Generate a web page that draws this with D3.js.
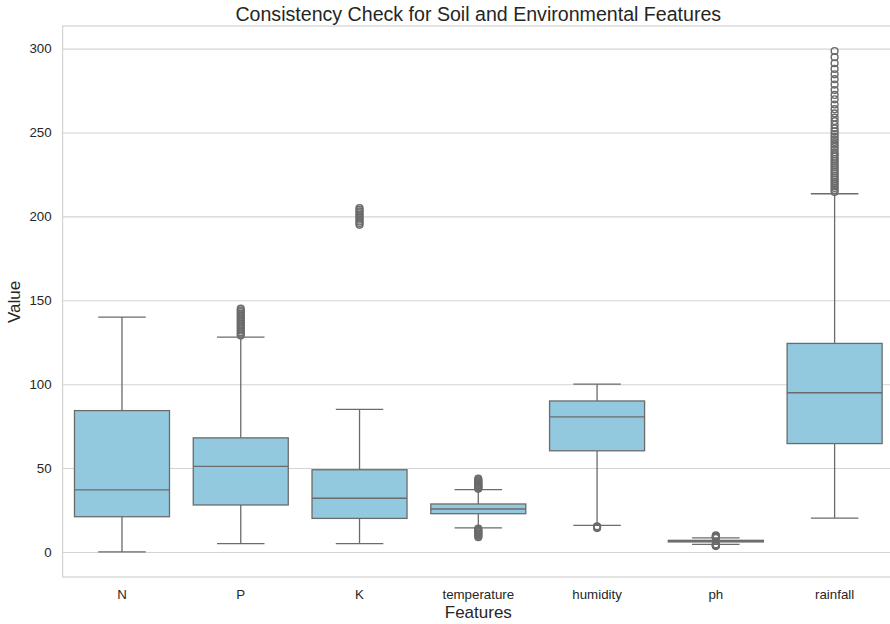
<!DOCTYPE html>
<html lang="en">
<head>
  <meta charset="UTF-8">
  <title>Consistency Check for Soil and Environmental Features</title>
  <script src="https://d3js.org/d3.v7.min.js"></script>
  <style>
    body { margin: 0; background: #fff; }
    svg { display: block; font-family: Arial, "Liberation Sans", sans-serif; }
    .tick text { fill: #262626; font-size: 13.3px; }
  </style>
</head>
<body>
  <div id="chart"></div>
  <script>
    // summary stats
    const features = ["N", "P", "K", "temperature", "humidity", "ph", "rainfall"];
    const whiskerLow  = [0,     5,  5,  14.3,  15.9,  4.55, 20.2];
    const q1          = [21,    28, 20, 22.8,  60.3,  5.97, 64.6];
    const median      = [37,    51, 32, 25.6,  80.5,  6.43, 94.9];
    const q3          = [84.25, 68, 49, 28.6,  90.0,  6.92, 124.3];
    const whiskerHigh = [140,  128, 85, 37.2,  99.98, 8.34, 213.5];
    const outliers = [
      [],
      [129, 130, 131, 132, 133, 134, 135, 136, 137, 138, 139, 140, 141, 142, 143, 144, 145],
      [195, 196, 197, 198, 199, 200, 201, 202, 203, 204, 205],
      [8.8, 9.5, 10.0, 10.6, 11.1, 11.7, 12.2, 12.8, 13.3, 13.9, 37.6, 38.1, 38.6, 39.1, 39.6, 40.1, 40.6, 41.1, 41.6, 42.2, 42.9, 43.7],
      [14.26, 14.6, 15.0, 15.3],
      [3.5, 3.8, 4.0, 4.2, 4.4, 4.5, 8.4, 8.6, 8.9, 9.2, 9.5, 9.94],
      [214.5, 215.7, 216.9, 218.1, 219.4, 220.6, 221.9, 223.1, 224.3, 225.6, 226.8, 228.0, 229.3, 230.5, 231.7, 233.0,
       234.2, 235.6, 236.9, 238.2, 239.8, 241.4, 242.9, 244.3, 245.9, 247.4, 249.0, 250.7, 252.5, 254.6, 256.8, 258.9,
       261.4, 263.9, 266.7, 269.8, 272.4, 275.3, 278.6, 281.8, 284.7, 287.9, 291.3, 294.9, 298.6]
    ];
    const yTicks = [0, 50, 100, 150, 200, 250, 300];

    const W = 890, H = 624;
    const m = { left: 62.6, right: 894, top: 26, bottom: 577 };
    const boxFill = "#93c9de", lineCol = "#6b6b6b", gridCol = "#d4d4d4";

    const svg = d3.select("#chart").append("svg")
      .attr("width", W).attr("height", H);

    const x = d3.scaleBand()
      .domain(features)
      .range([m.left, m.right])
      .paddingInner(0.2)
      .paddingOuter(0.1);

    const y = d3.scaleLinear()
      .domain([-14.93, 313.5])
      .range([m.bottom, m.top]);

    // grid + y labels
    const yAxis = svg.append("g")
      .attr("transform", `translate(${m.left},0)`)
      .call(d3.axisLeft(y).tickValues(yTicks).tickSize(-(m.right - m.left)).tickPadding(11));
    yAxis.select(".domain").remove();
    yAxis.selectAll(".tick line").attr("stroke", gridCol).attr("stroke-width", 1.1);

    // x labels
    const xAxis = svg.append("g")
      .attr("transform", `translate(0,${m.bottom})`)
      .call(d3.axisBottom(x).tickSize(0).tickPadding(12.5));
    xAxis.select(".domain").remove();

    // spines
    svg.append("rect")
      .attr("x", m.left).attr("y", m.top)
      .attr("width", m.right - m.left).attr("height", m.bottom - m.top)
      .attr("fill", "none").attr("stroke", gridCol).attr("stroke-width", 1.25);

    const bw = x.bandwidth();
    const g = svg.append("g");

    features.forEach((f, i) => {
      const cx = x(f) + bw / 2;
      const grp = g.append("g");
      // whiskers
      grp.append("line").attr("x1", cx).attr("x2", cx)
        .attr("y1", y(q1[i])).attr("y2", y(whiskerLow[i]));
      grp.append("line").attr("x1", cx).attr("x2", cx)
        .attr("y1", y(q3[i])).attr("y2", y(whiskerHigh[i]));
      // caps
      grp.append("line").attr("x1", cx - bw / 4).attr("x2", cx + bw / 4)
        .attr("y1", y(whiskerLow[i])).attr("y2", y(whiskerLow[i]));
      grp.append("line").attr("x1", cx - bw / 4).attr("x2", cx + bw / 4)
        .attr("y1", y(whiskerHigh[i])).attr("y2", y(whiskerHigh[i]));
      // box
      grp.append("rect")
        .attr("x", x(f)).attr("width", bw)
        .attr("y", y(q3[i])).attr("height", y(q1[i]) - y(q3[i]))
        .attr("fill", boxFill);
      grp.append("line").attr("x1", x(f)).attr("x2", x(f) + bw)
        .attr("y1", y(median[i])).attr("y2", y(median[i]));
      grp.selectAll("line").attr("stroke", lineCol).attr("stroke-width", 1.3);
      grp.select("rect").attr("stroke", lineCol).attr("stroke-width", 1.3);
      // fliers
      grp.selectAll("circle").data(outliers[i]).join("circle")
        .attr("cx", cx).attr("cy", d => y(d)).attr("r", 3.4)
        .attr("fill", "none").attr("stroke", lineCol).attr("stroke-width", 1.4);
    });

    // labels
    svg.append("text")
      .attr("x", (m.left + m.right) / 2).attr("y", 20.5)
      .attr("text-anchor", "middle").attr("font-size", 19.6).attr("fill", "#262626")
      .text("Consistency Check for Soil and Environmental Features");

    svg.append("text")
      .attr("x", (m.left + m.right) / 2).attr("y", 618)
      .attr("text-anchor", "middle").attr("font-size", 17).attr("fill", "#262626")
      .text("Features");

    svg.append("text")
      .attr("transform", `translate(20,302) rotate(-90)`)
      .attr("text-anchor", "middle").attr("font-size", 17).attr("fill", "#262626")
      .text("Value");
  </script>
</body>
</html>
